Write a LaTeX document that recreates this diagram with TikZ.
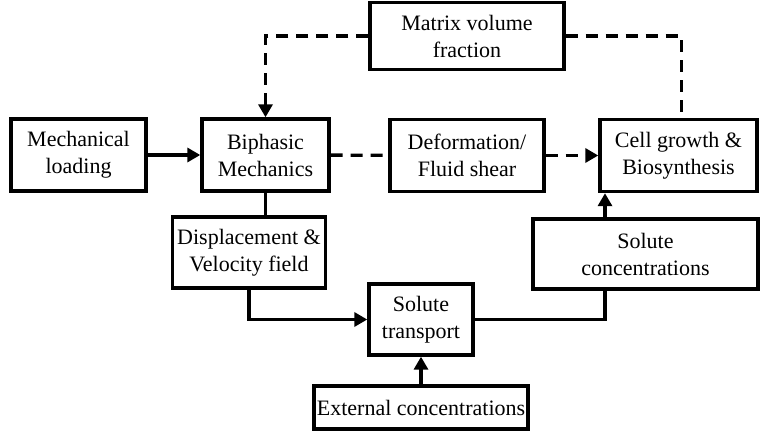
\documentclass[tikz,border=0pt]{standalone}
\usepackage{fontspec}
\setmainfont{Liberation Serif}
\usetikzlibrary{arrows.meta}

\tikzset{
	blk/.style={draw=black, line width=3.4pt, align=center, inner sep=2pt,
		font=\fontsize{22}{27}\selectfont},
	link/.style={line width=3.4pt},
	dlink/.style={line width=3.4pt, dash pattern=on 12pt off 8pt},
	tip/.style={-{Triangle[length=13pt,width=14pt]}}
}

\begin{document}
\begin{tikzpicture}[x=1pt, y=-1pt]
	\useasboundingbox (0,0) rectangle (761,436);
	
	\node[blk, minimum width=135pt, minimum height=72pt] (mech)   at (78.5, 155)  {Mechanical\\loading};
	\node[blk, minimum width=127pt, minimum height=72pt] (biph)   at (265.5, 155) {Biphasic\\Mechanics};
	\node[blk, minimum width=194pt, minimum height=67pt] (matrix) at (467, 36)    {Matrix volume\\fraction};
	\node[blk, minimum width=154pt, minimum height=72pt] (deform) at (467, 155.5) {Deformation/\\Fluid shear};
	\node[blk, minimum width=157pt, minimum height=72pt] (cell)   at (678.5, 155.5) {Cell growth \&\\Biosynthesis};
	\node[blk, minimum width=153pt, minimum height=71pt] (disp)   at (249, 252.5) {Displacement \&\\Velocity field};
	\node[blk, minimum width=104pt, minimum height=71pt] (trans)  at (421, 319.5) {Solute\\transport};
	\node[blk, minimum width=225pt, minimum height=70pt] (conc)   at (645.5, 254) {Solute\\concentrations};
	\node[blk, minimum width=214pt, minimum height=43pt] (ext)    at (421, 407.5) {External concentrations};
	
	\coordinate (up) at (605, 319.5);
	
	\draw[link, tip] (mech) -- (biph);
	\draw[dlink] (biph) -- (deform);
	\draw[dlink, tip] (deform) -- (cell);
	\draw[dlink, tip] (matrix.west) -| (biph.north);
	\draw[dlink] (matrix.east) -| ([xshift=3pt]cell.north);
	\draw[link] (biph.south) -- (biph.south |- disp.north);
	\draw[link, tip] (disp.south) |- (trans.west);
	\draw[link] (trans.east) -- (up) -- (up |- conc.south);
	\draw[link, tip] (up |- conc.north) -- (up |- cell.south);
	\draw[link, tip] (ext) -- (trans);
\end{tikzpicture}
\end{document}
